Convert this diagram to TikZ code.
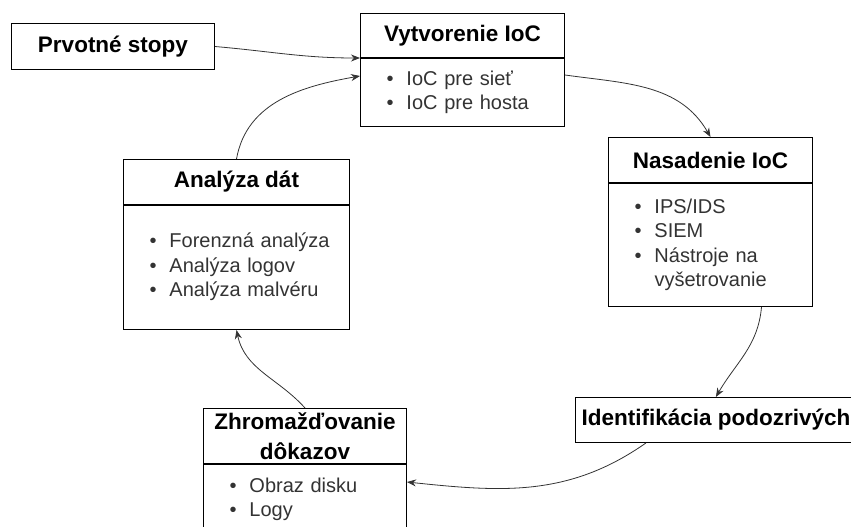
\documentclass[tikz,border=0pt]{standalone}
\usepackage{fontspec}
\setmainfont{Liberation Sans}
\usetikzlibrary{arrows.meta, positioning}
\definecolor{txtgray}{RGB}{51,51,51}
\newcommand{\blist}[1]{\begin{tabular}{@{\hspace{26pt}}c@{\hspace{13pt}}l@{}}#1\end{tabular}}

\begin{document}
\begin{tikzpicture}[x=1pt, y=-1pt,
    head/.style={rectangle, draw, line width=1pt, inner sep=0pt, align=center, anchor=north west,
                 minimum height=45pt, font=\fontsize{22.5}{27}\selectfont\bfseries},
    body/.style={rectangle, draw, line width=1pt, inner sep=0pt, align=left,
                 font=\fontsize{20}{24.5}\selectfont, text=txtgray},
    arrow/.style={-{Stealth[length=9pt, width=7pt]}, line width=0.8pt, draw=black!80}
  ]
    \useasboundingbox (0,0) rectangle (851,527);
    \clip (0,0) rectangle (851,527);

    \node[head, minimum width=203pt, minimum height=46pt] (traces) at (11,23) {Prvotné stopy};

    \node[head, minimum width=204pt, minimum height=44pt] (create) at (360,13) {Vytvorenie IoC};
    \node[body, below=0pt of create, text width=204pt, minimum height=68pt] (createlist)
      {\blist{\textbullet & IoC pre sieť\\ \textbullet & IoC pre hosta}};

    \node[head, minimum width=204pt] (deploy) at (608,137) {Nasadenie IoC};
    \node[body, below=0pt of deploy, text width=204pt, minimum height=123pt] (deploylist)
      {\blist{\textbullet & IPS/IDS\\ \textbullet & SIEM\\ \textbullet & Nástroje na\\ & vyšetrovanie}};

    \node[head, inner xsep=6pt] (ident) at (575,397) {Identifikácia podozrivých};

    \node[head, minimum width=203pt, minimum height=55pt] (collect) at (203,408) {Zhromažďovanie\\[3pt]dôkazov};
    \node[body, below=0pt of collect, text width=203pt, minimum height=70pt] (collectlist)
      {\blist{\textbullet & Obraz disku\\ \textbullet & Logy}};

    \node[head, minimum width=226pt] (analyze) at (123,159) {Analýza dát};
    \node[body, below=0pt of analyze, text width=226pt, minimum height=124pt] (analyzelist)
      {\blist{\textbullet & Forenzná analýza\\ \textbullet & Analýza logov\\ \textbullet & Analýza malvéru}};

    \draw[arrow] (traces.east) to[out=-5, in=180] (create.south west);
    \draw[arrow] ([yshift=-17pt]createlist.north east) to[out=-8, in=120] (deploy.north);
    \draw[arrow] ([xshift=51pt]deploylist.south) to[out=-95, in=60] (ident.north);
    \draw[arrow] ([xshift=-70pt]ident.south) to[out=-145, in=-6] ([yshift=-18pt]collectlist.north east);
    \draw[arrow] (collect.north) to[out=132, in=-78] (analyzelist.south);
    \draw[arrow] (analyze.north) to[out=80, in=190] ([yshift=-18pt]createlist.north west);
  \end{tikzpicture}
\end{document}
